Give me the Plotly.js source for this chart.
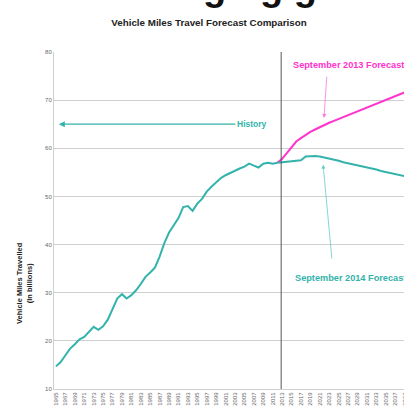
<!DOCTYPE html>
<html><head><meta charset="utf-8">
<script src="https://cdn.plot.ly/plotly-3.0.1.min.js"></script>
<style>html,body{margin:0;padding:0;overflow:hidden;background:#fff;width:404px;height:415px}</style>
</head><body><div id="chart"></div>
<script>
// Data
const historyYears = [1965,1966,1967,1968,1969,1970,1971,1972,1973,1974,1975,1976,1977,1978,1979,1980,1981,1982,1983,1984,1985,1986,1987,1988,1989,1990,1991,1992,1993,1994,1995,1996,1997,1998,1999,2000,2001,2002,2003,2004,2005,2006,2007,2008,2009,2010,2011,2012];
const historyValues = [14.7,15.6,17.0,18.4,19.3,20.3,20.8,21.8,22.9,22.3,23.0,24.4,26.5,28.8,29.7,28.8,29.5,30.5,31.8,33.3,34.2,35.2,37.5,40.3,42.5,44.0,45.5,47.8,48.0,47.0,48.5,49.5,51.0,52.0,53.0,53.8,54.4,54.9,55.4,55.8,56.2,56.8,56.4,56.0,56.8,57.0,56.8,57.0];
const forecastYears = [2012,2013,2014,2015,2016,2017,2018,2019,2020,2021,2022,2023,2024,2025,2026,2027,2028,2029,2030,2031,2032,2033,2034,2035,2036,2037,2038,2039,2040];
const forecast2013 = [57.0,57.8,59.0,60.3,61.4,62.1,62.8,63.4,63.9,64.4,64.8,65.3,65.7,66.1,66.5,66.9,67.3,67.7,68.1,68.5,68.9,69.3,69.7,70.1,70.5,70.9,71.3,71.6,72.0];
const forecast2014 = [57.0,57.1,57.2,57.3,57.4,57.5,58.3,58.4,58.4,58.3,58.1,57.9,57.6,57.4,57.1,56.9,56.7,56.5,56.2,56.0,55.8,55.6,55.3,55.1,54.9,54.6,54.4,54.2,53.9];
const tickYears = [];
for (let y = 1965; y <= 2039; y += 2) tickYears.push(y);
const tickLabels = tickYears.map(String);
const historyStart = 2012.8;

const teal = '#33b3ab';
const magenta = '#ff33cc';
const font = 'Liberation Sans, Arial, sans-serif';

const traces = [
  {x: historyYears, y: historyValues, type: 'scatter', mode: 'lines', line: {color: teal, width: 2}, hoverinfo: 'skip'},
  {x: forecastYears, y: forecast2013, type: 'scatter', mode: 'lines', line: {color: magenta, width: 2}, hoverinfo: 'skip'},
  {x: forecastYears, y: forecast2014, type: 'scatter', mode: 'lines', line: {color: teal, width: 2}, hoverinfo: 'skip'}
];

const layout = {
  width: 420, height: 415,
  margin: {l: 54, r: 6, t: 52, b: 26},
  paper_bgcolor: '#fff', plot_bgcolor: '#fff',
  showlegend: false,
  title: {text: '<b>Vehicle Miles Travel Forecast Comparison</b>', x: 209/420, xref: 'container', xanchor: 'center', y: 1 - 23/415, yref: 'container', yanchor: 'middle', font: {family: font, size: 9.8, color: '#222'}},
  xaxis: {range: [1964.58, 2041.0], tickmode: 'array', tickvals: tickYears, ticktext: tickLabels, tickangle: -90, tickfont: {family: font, size: 6, color: '#666'}, showgrid: false, zeroline: false, showline: true, linecolor: '#cfcfcf', linewidth: 1, ticks: '', fixedrange: true},
  yaxis: {range: [10, 80], dtick: 10, tickfont: {family: font, size: 6, color: '#666'}, showgrid: true, gridcolor: '#cfcfcf', gridwidth: 1, zeroline: false, showline: true, linecolor: '#cfcfcf', ticks: '', ticklen: 0, fixedrange: true},
  shapes: [
    {type: 'line', xref: 'x', yref: 'y', x0: historyStart, x1: historyStart, y0: 10, y1: 80, line: {color: '#555', width: 1}}
  ],
  annotations: [
    {xref: 'x', yref: 'y', x: 1965.6, y: 65, axref: 'x', ayref: 'y', ax: 2006.6, ay: 65, text: '<b>History</b>', showarrow: true, arrowhead: 2, arrowsize: 1, arrowwidth: 1.2, arrowcolor: teal, font: {family: font, size: 8.5, color: teal}},
    {xref: 'x', yref: 'y', x: 2014.9, y: 77.3, xanchor: 'left', yanchor: 'middle', text: '<b>September 2013 Forecast</b>', showarrow: false, font: {family: font, size: 9.2, color: magenta}},
    {xref: 'x', yref: 'y', x: 2021.9, y: 66.3, axref: 'x', ayref: 'y', ax: 2022.5, ay: 75.2, text: '', showarrow: true, arrowhead: 2, arrowsize: 1, arrowwidth: 0.8, arrowcolor: '#ff77dd'},
    {xref: 'x', yref: 'y', x: 2015.3, y: 33.1, xanchor: 'left', yanchor: 'middle', text: '<b>September 2014 Forecast</b>', showarrow: false, font: {family: font, size: 9.2, color: teal}},
    {xref: 'x', yref: 'y', x: 2021.7, y: 56.6, axref: 'x', ayref: 'y', ax: 2023.6, ay: 36.8, text: '', showarrow: true, arrowhead: 2, arrowsize: 1, arrowwidth: 0.8, arrowcolor: '#66ccc6'},
    {xref: 'paper', yref: 'paper', x: -30/360, y: (389-283)/337, xanchor: 'center', yanchor: 'middle', textangle: -90, text: '<b>Vehicle Miles Travelled<br>(In billions)</b>', showarrow: false, font: {family: font, size: 7.5, color: '#222'}},
    {xref: 'paper', yref: 'paper', x: (260-54)/360, y: 1 + (52-10)/337, xanchor: 'center', yanchor: 'bottom', text: '<b>ging g</b>', showarrow: false, font: {family: font, size: 38, color: '#111'}}
  ]
};

Plotly.newPlot('chart', traces, layout, {displayModeBar: false, staticPlot: true});
</script></body></html>
